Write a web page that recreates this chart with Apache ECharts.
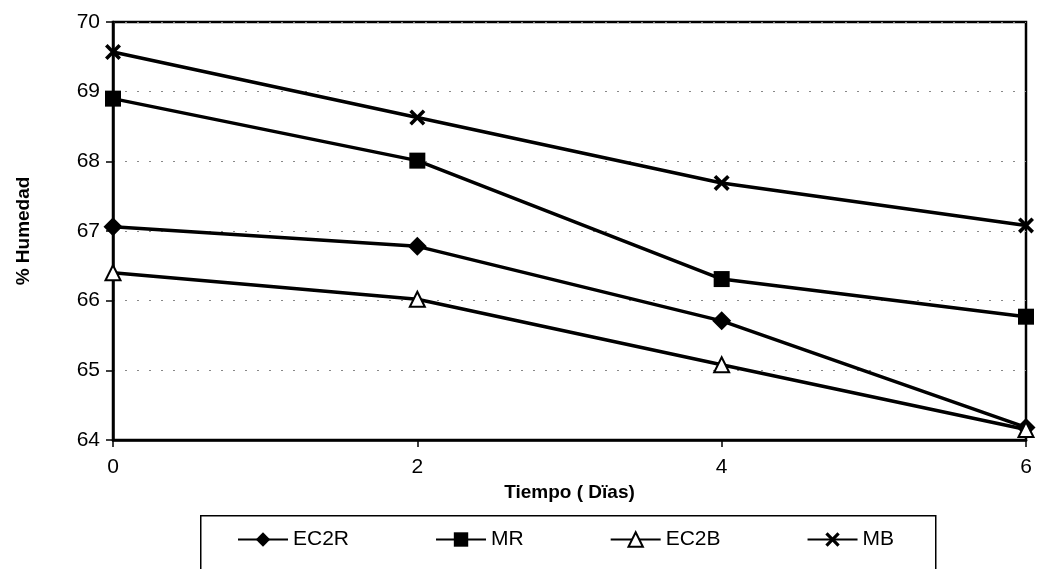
<!DOCTYPE html>
<html>
<head>
<meta charset="utf-8">
<script src="https://cdn.jsdelivr.net/npm/echarts@6/dist/echarts.min.js"></script>
<style>html,body{margin:0;padding:0;background:#fff;}#c{width:1037px;height:569px;}</style>
</head>
<body>
<div id="c"></div>
<script>
const days = [0, 2, 4, 6];
const EC2R = [67.06, 66.78, 65.71, 64.18];
const MR = [68.90, 68.01, 66.31, 65.77];
const EC2B = [66.40, 66.02, 65.08, 64.15];
const MB = [69.57, 68.63, 67.69, 67.08];
const xTicks = [0, 2, 4, 6];
const yTicks = [64, 65, 66, 67, 68, 69, 70];

const FONT = '"Liberation Sans", Arial, sans-serif';
const X_SYMBOL = 'path://M0,1.6 L1.6,0 L5,3.4 L8.4,0 L10,1.6 L6.6,5 L10,8.4 L8.4,10 L5,6.6 L1.6,10 L0,8.4 L3.4,5 Z';

function pts(arr) { return days.map((d, i) => [d, arr[i]]); }
function mkSeries(name, arr, symbol, size, fill) {
  return {
    name: name, type: 'line', data: pts(arr),
    symbol: symbol, symbolSize: size,
    lineStyle: { color: '#000', width: 3.5 },
    itemStyle: { color: fill, borderColor: '#000', borderWidth: fill === '#fff' ? 2 : 0 },
    emphasis: { disabled: true }
  };
}

const chart = echarts.init(document.getElementById('c'));
chart.setOption({
  animation: false,
  backgroundColor: '#fff',
  grid: { left: 113, right: 11, top: 22, bottom: 129, show: true, borderColor: '#000', borderWidth: 2.5, backgroundColor: 'transparent' },
  xAxis: {
    type: 'value', min: xTicks[0], max: xTicks[xTicks.length - 1], interval: 2,
    name: 'Tiempo ( Dïas)', nameLocation: 'middle', nameGap: 37,
    nameTextStyle: { fontFamily: FONT, fontSize: 19, fontWeight: 'bold', color: '#000' },
    axisLine: { lineStyle: { color: '#000', width: 2.5 } },
    axisTick: { show: true, length: 7, lineStyle: { color: '#000', width: 1.5 } },
    axisLabel: { fontFamily: FONT, fontSize: 21, color: '#000', margin: 17 },
    splitLine: { show: false }
  },
  yAxis: {
    type: 'value', min: yTicks[0], max: yTicks[yTicks.length - 1], interval: 1,
    name: '% Humedad', nameLocation: 'middle', nameGap: 80,
    nameTextStyle: { fontFamily: FONT, fontSize: 19, fontWeight: 'bold', color: '#000' },
    axisLine: { show: true, lineStyle: { color: '#000', width: 2.5 } },
    axisTick: { show: true, length: 7, lineStyle: { color: '#000', width: 1.5 } },
    axisLabel: { fontFamily: FONT, fontSize: 21, color: '#000', margin: 13 },
    splitLine: { show: true, lineStyle: { color: '#888', width: 1, type: [2, 10] } }
  },
  legend: {
    left: 232, top: 524, itemGap: 86, itemWidth: 50, itemHeight: 18,
    textStyle: { fontFamily: FONT, fontSize: 21, color: '#000' },
    data: ['EC2R', 'MR', 'EC2B', 'MB']
  },
  graphic: [{
    type: 'rect', left: 200, top: 515, shape: { width: 735, height: 70 },
    style: { fill: 'transparent', stroke: '#000', lineWidth: 1.5 }, z: -1, silent: true
  }],
  series: [
    mkSeries('EC2R', EC2R, 'diamond', 19, '#000'),
    mkSeries('MR', MR, 'rect', 16, '#000'),
    mkSeries('EC2B', EC2B, 'triangle', 15, '#fff'),
    mkSeries('MB', MB, X_SYMBOL, 16, '#000')
  ]
});
</script>
</body>
</html>
